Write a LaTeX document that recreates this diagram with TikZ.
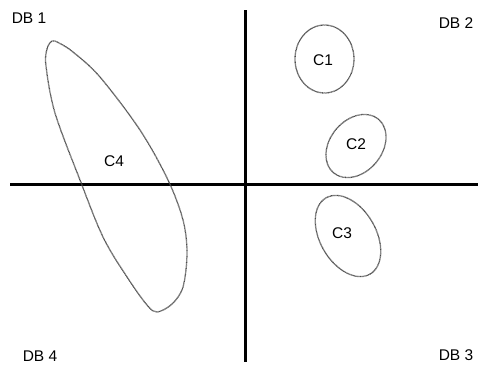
\documentclass[tikz,border=0pt]{standalone}
\usepackage{fontspec}
\setmainfont{Liberation Sans}
\begin{document}
\begin{tikzpicture}[x=1pt,y=-1pt,
  lbl/.style={font=\fontsize{15.5}{18}\selectfont, inner sep=0pt},
  axis/.style={line width=3pt},
  clust/.style={draw=black!70, line width=1.3pt, dash pattern=on 0.7pt off 0.5pt}]
\useasboundingbox (0,0) rectangle (480,365);
% axes
\coordinate (vt) at (245,10);
\coordinate (vb) at (245,362);
\coordinate (hl) at (10,184);
\coordinate (hr) at (478,184);
\draw[axis] (vt) -- (vb);
\draw[axis] (hl) -- (hr);
% clusters
\draw[clust] (324.5,59) ellipse [x radius=29.5, y radius=34];
\draw[clust] (356,146) ellipse [x radius=35, y radius=26, rotate=50];
\draw[clust] (348,236) ellipse [x radius=44, y radius=28, rotate=-60];
\draw[clust] plot[smooth cycle, tension=0.55] coordinates {
  (52,41) (47,49) (46,66) (55,113) (80,180) (103,237) (127,277) (147,305)
  (157,312) (172,304) (183,287) (187,253) (183,220) (168,180) (140,130)
  (100,77) (73,52) (59,43)};
% labels
\node[lbl] (c1) at (323,60) {C1};
\node[lbl] (c2) at (356,144) {C2};
\node[lbl] (c3) at (342,233) {C3};
\node[lbl] (c4) at (114,161) {C4};
\node[lbl] (db1) at (29,18) {DB 1};
\node[lbl] (db2) at (456,23) {DB 2};
\node[lbl] (db3) at (456,355) {DB 3};
\node[lbl] (db4) at (40,356) {DB 4};
\end{tikzpicture}
\end{document}
